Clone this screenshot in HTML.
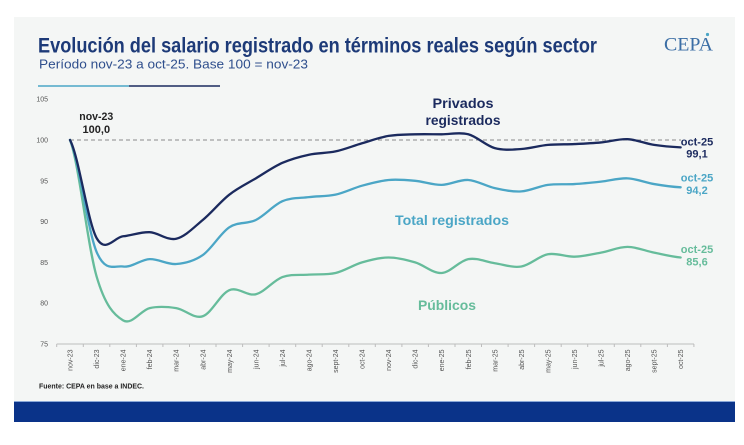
<!DOCTYPE html>
<html><head><meta charset="utf-8"><style>
html,body{margin:0;padding:0;background:#fff;}
svg{display:block;}
text{font-family:"Liberation Sans",sans-serif;}
</style></head><body>
<svg width="744" height="445" viewBox="0 0 744 445" xmlns="http://www.w3.org/2000/svg">
<rect x="0" y="0" width="744" height="445" fill="#ffffff"/>
<rect x="14" y="17" width="721" height="385" fill="#f4f6f5"/>
<rect x="14" y="401.5" width="721" height="20.5" fill="#0a3389"/>
<line x1="14" y1="401.5" x2="735" y2="401.5" stroke="#8aa8d8" stroke-width="1"/>

<text x="38" y="52.5" font-size="21" font-weight="bold" fill="#1d3a78" textLength="559" lengthAdjust="spacingAndGlyphs">Evolución del salario registrado en términos reales según sector</text>
<text x="39" y="68.5" font-size="13" fill="#2f4f8d" textLength="269" lengthAdjust="spacingAndGlyphs">Período nov-23 a oct-25. Base 100 = nov-23</text>
<line x1="38" y1="86" x2="129" y2="86" stroke="#4ba6c6" stroke-width="1.6"/>
<line x1="129" y1="86" x2="220" y2="86" stroke="#1b2a5e" stroke-width="1.6"/>

<text x="664" y="50.7" font-family="Liberation Serif" font-size="19" fill="#3b6ea5" textLength="49" lengthAdjust="spacingAndGlyphs" style="font-family:'Liberation Serif',serif">CEPA</text>
<circle cx="707.5" cy="34.5" r="1.6" fill="#4ba6c6"/>

<g font-size="7" fill="#555" text-anchor="end">
<text x="48" y="101.5">105</text>
<text x="48" y="142.5">100</text>
<text x="48" y="183.3">95</text>
<text x="48" y="224.1">90</text>
<text x="48" y="264.9">85</text>
<text x="48" y="305.7">80</text>
<text x="48" y="346.5">75</text>
</g>

<line x1="70" y1="140" x2="681" y2="140" stroke="#8a8a8a" stroke-width="1.1" stroke-dasharray="4,3"/>

<line x1="56.7" y1="344" x2="694" y2="344" stroke="#bdbdbd" stroke-width="1"/>
<path d="M56.7,344v3M83.3,344v3M109.8,344v3M136.4,344v3M162.9,344v3M189.5,344v3M216,344v3M242.6,344v3M269.1,344v3M295.7,344v3M322.2,344v3M348.8,344v3M375.3,344v3M401.9,344v3M428.4,344v3M455,344v3M481.5,344v3M508.1,344v3M534.6,344v3M561.2,344v3M587.7,344v3M614.3,344v3M640.8,344v3M667.4,344v3M693.9,344v3" stroke="#bdbdbd" stroke-width="1"/>

<g font-size="7" fill="#555" text-anchor="end">
<text transform="translate(72.5,349.5) rotate(-90)">nov-23</text>
<text transform="translate(99.05,349.5) rotate(-90)">dic-23</text>
<text transform="translate(125.6,349.5) rotate(-90)">ene-24</text>
<text transform="translate(152.15,349.5) rotate(-90)">feb-24</text>
<text transform="translate(178.7,349.5) rotate(-90)">mar-24</text>
<text transform="translate(205.25,349.5) rotate(-90)">abr-24</text>
<text transform="translate(231.8,349.5) rotate(-90)">may-24</text>
<text transform="translate(258.35,349.5) rotate(-90)">jun-24</text>
<text transform="translate(284.9,349.5) rotate(-90)">jul-24</text>
<text transform="translate(311.45,349.5) rotate(-90)">ago-24</text>
<text transform="translate(338,349.5) rotate(-90)">sept-24</text>
<text transform="translate(364.55,349.5) rotate(-90)">oct-24</text>
<text transform="translate(391.1,349.5) rotate(-90)">nov-24</text>
<text transform="translate(417.65,349.5) rotate(-90)">dic-24</text>
<text transform="translate(444.2,349.5) rotate(-90)">ene-25</text>
<text transform="translate(470.75,349.5) rotate(-90)">feb-25</text>
<text transform="translate(497.3,349.5) rotate(-90)">mar-25</text>
<text transform="translate(523.85,349.5) rotate(-90)">abr-25</text>
<text transform="translate(550.4,349.5) rotate(-90)">may-25</text>
<text transform="translate(576.95,349.5) rotate(-90)">jun-25</text>
<text transform="translate(603.5,349.5) rotate(-90)">jul-25</text>
<text transform="translate(630.05,349.5) rotate(-90)">ago-25</text>
<text transform="translate(656.6,349.5) rotate(-90)">sept-25</text>
<text transform="translate(683.15,349.5) rotate(-90)">oct-25</text>
</g>

<g fill="none" stroke-width="2.3" stroke-linecap="round" stroke-linejoin="round">
<path stroke="#66bc9b" d="M70,140 C78.85,162.71 87.7,246.21 96.55,276.27 S114.25,315.03 123.1,320.34 S140.8,310.14 149.65,308.10 S167.35,306.74 176.2,308.10 S193.9,319.25 202.75,316.26 S220.45,293.81 229.3,290.14 S247.0,296.40 255.85,294.22 S273.55,280.35 282.4,277.09 S300.1,275.32 308.95,274.64 S326.65,275.05 335.5,273.01 S353.2,264.99 362.05,262.4 S379.75,257.50 388.6,257.50 S406.3,259.81 415.15,262.4 S432.85,273.55 441.7,273.01 S459.4,260.77 468.25,259.14 S485.95,262.00 494.8,263.22 S512.5,267.98 521.35,266.48 S539.05,255.87 547.9,254.24 S565.6,256.96 574.45,256.69 S592.15,254.24 601.0,252.61 S618.7,246.90 627.55,246.90 S645.25,250.84 654.1,252.61 S671.8,256.69 680.65,257.50"/>
<path stroke="#4ba6c6" d="M70,140 C78.85,158.63 87.7,230.71 96.55,251.79 S114.25,265.26 123.1,266.48 S140.8,259.55 149.65,259.14 S167.35,264.71 176.2,264.03 S193.9,261.18 202.75,255.06 S220.45,233.16 229.3,227.31 S247.0,224.32 255.85,219.97 S273.55,205.01 282.4,201.2 S300.1,198.21 308.95,197.12 S326.65,196.57 335.5,194.67 S353.2,188.15 362.05,185.70 S379.75,180.80 388.6,179.98 S406.3,179.98 415.15,180.8 S432.85,185.02 441.7,184.88 S459.4,179.44 468.25,179.98 S485.95,186.23 494.8,188.14 S512.5,191.95 521.35,191.41 S539.05,186.11 547.9,184.88 S565.6,184.60 574.45,184.06 S592.15,182.57 601.0,181.62 S618.7,177.94 627.55,178.35 S645.25,182.56 654.1,184.06 S671.8,186.79 680.65,187.33"/>
<path stroke="#1b2a5e" d="M70,140 C78.85,156.3 87.7,221.87 96.55,237.92 S114.25,237.24 123.1,236.29 S140.8,231.80 149.65,232.21 S167.35,240.78 176.2,238.74 S193.9,227.32 202.75,219.97 S220.45,201.61 229.3,194.67 S247.0,183.65 255.85,178.35 S273.55,166.79 282.4,162.85 S300.1,156.60 308.95,154.69 S326.65,153.33 335.5,151.42 S353.2,145.84 362.05,143.26 S379.75,137.42 388.6,135.92 S406.3,134.56 415.15,134.29 S432.85,134.29 441.7,134.29 S459.4,131.98 468.25,134.29 S485.95,145.71 494.8,148.16 S512.5,149.52 521.35,148.98 S539.05,145.72 547.9,144.90 S565.6,144.49 574.45,144.08 S592.15,143.27 601.0,142.45 S618.7,138.77 627.55,139.18 S645.25,143.54 654.1,144.90 S671.8,146.93 680.65,147.34"/>
</g>

<g font-weight="bold" text-anchor="middle">
<text x="96.3" y="120" font-size="11" fill="#222" textLength="34" lengthAdjust="spacingAndGlyphs">nov-23</text>
<text x="96.3" y="133" font-size="11" fill="#222">100,0</text>

<text x="463" y="108" font-size="14" fill="#1b2a5e" textLength="61" lengthAdjust="spacingAndGlyphs">Privados</text>
<text x="463" y="125" font-size="14" fill="#1b2a5e" textLength="75" lengthAdjust="spacingAndGlyphs">registrados</text>

<text x="452" y="225" font-size="13.5" fill="#4ba6c6" textLength="114" lengthAdjust="spacingAndGlyphs">Total registrados</text>
<text x="447" y="310" font-size="14" fill="#66bc9b" textLength="58" lengthAdjust="spacingAndGlyphs">Públicos</text>

<text x="697" y="145.5" font-size="11" fill="#1b2a5e">oct-25</text>
<text x="697" y="157.5" font-size="11" fill="#1b2a5e">99,1</text>
<text x="697" y="181.5" font-size="11" fill="#4ba6c6">oct-25</text>
<text x="697" y="194" font-size="11" fill="#4ba6c6">94,2</text>
<text x="697" y="253" font-size="11" fill="#66bc9b">oct-25</text>
<text x="697" y="265.5" font-size="11" fill="#66bc9b">85,6</text>
</g>

<text x="39" y="388.5" font-size="7.5" font-weight="bold" fill="#222" textLength="105" lengthAdjust="spacingAndGlyphs">Fuente: CEPA en base a INDEC.</text>
</svg>
</body></html>
